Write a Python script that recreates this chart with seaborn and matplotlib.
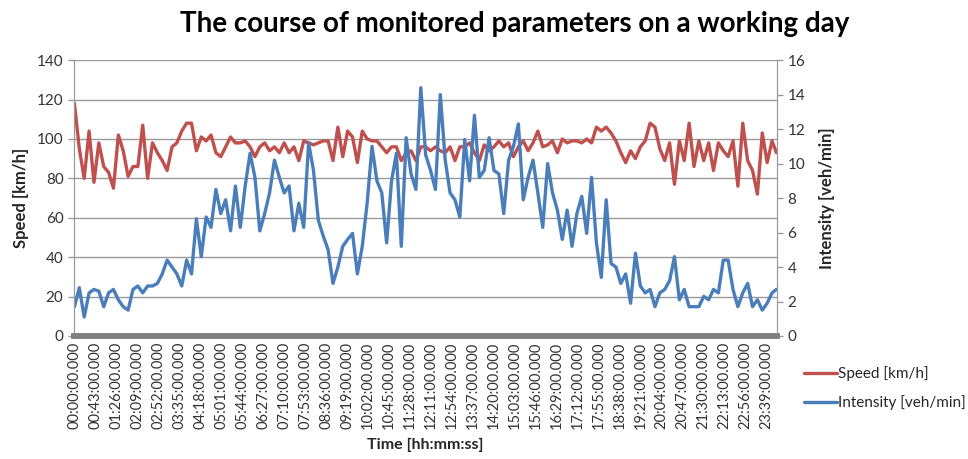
import matplotlib
matplotlib.use("Agg")
import matplotlib.pyplot as plt
import seaborn as sns

# sample minutes of the day (every 10 min, plus the last minute)
minutes = list(range(0, 1440, 10)) + [1439]

# Speed [km/h]
speed = [118, 95, 80, 104, 78, 98, 86, 83, 75, 102, 94, 81, 86, 86, 107, 80, 98, 93, 89, 84, 96, 98, 104, 108,
         108, 94, 101, 99, 102, 93, 91, 96, 101, 98, 98, 99, 96, 91, 96, 98, 94, 96, 93, 98, 93, 96, 89, 99,
         98, 97, 98, 99, 99, 89, 106, 91, 104, 101, 88, 104, 100, 99, 99, 96, 93, 96, 96, 89, 93, 94, 89, 96,
         96, 94, 96, 94, 93, 96, 89, 96, 96, 98, 93, 89, 97, 94, 96, 99, 96, 98, 91, 96, 99, 94, 98, 104,
         96, 97, 99, 93, 100, 98, 99, 99, 98, 100, 98, 106, 104, 106, 103, 99, 93, 88, 94, 90, 96, 99, 108, 106,
         95, 89, 98, 77, 99, 89, 108, 86, 99, 89, 98, 84, 98, 94, 91, 99, 76, 108, 89, 84, 72, 103, 88, 99, 93]

# Intensity [veh/min]
intensity = [1.7, 2.8, 1.1, 2.5, 2.7, 2.6, 1.7, 2.5, 2.7, 2.1, 1.7, 1.5, 2.7, 2.9, 2.5, 2.9, 2.9, 3.05, 3.6, 4.4, 4.0, 3.6, 2.9, 4.4,
             3.6, 6.8, 4.6, 6.9, 6.3, 8.5, 7.1, 7.9, 6.1, 8.7, 6.3, 8.7, 10.6, 9.2, 6.1, 7.1, 8.3, 10.2, 9.2, 8.3, 8.7, 6.1, 7.7, 6.3,
             11.2, 9.6, 6.7, 5.8, 5.0, 3.05, 4.0, 5.2, 5.6, 5.95, 3.6, 5.2, 7.7, 11.0, 9.0, 8.3, 5.4, 9.0, 10.6, 5.2, 11.5, 9.4, 8.5, 14.4,
             10.5, 9.6, 8.5, 14.0, 10.2, 8.3, 7.9, 6.9, 11.4, 9.0, 12.8, 9.2, 9.6, 11.5, 9.6, 9.4, 7.1, 10.2, 11.0, 12.3, 7.9, 9.2, 10.2, 8.3,
             6.3, 10.0, 8.3, 7.3, 5.6, 7.3, 5.2, 7.1, 8.1, 5.95, 9.2, 5.4, 3.4, 7.9, 4.2, 4.0, 3.05, 3.6, 1.9, 4.8, 2.9, 2.5, 2.7, 1.7,
             2.5, 2.7, 3.2, 4.6, 2.1, 2.7, 1.7, 1.7, 1.7, 2.3, 2.1, 2.7, 2.5, 4.4, 4.4, 2.7, 1.7, 2.5, 3.05, 1.7, 2.1, 1.5, 1.9, 2.5, 2.7]

# x tick labels every 43 minutes
tick_minutes = list(range(0, 1440, 43))
tick_labels = [f"{t // 60:02d}:{t % 60:02d}:00.000" for t in tick_minutes]

speed_color = "#C0504D"
intensity_color = "#4A7EBB"
grid_color = "#9a9a9a"

sns.set_style("white")
plt.rcParams["font.family"] = ["Lato", "DejaVu Sans"]

fig = plt.figure(figsize=(9.68, 4.59), dpi=100)
ax = fig.add_axes([0.0764, 0.268, 0.7262, 0.601])
ax2 = ax.twinx()

sns.lineplot(x=minutes, y=speed, ax=ax, color=speed_color, linewidth=2.4, label="Speed [km/h]", legend=False)
sns.lineplot(x=minutes, y=intensity, ax=ax2, color=intensity_color, linewidth=2.4,
             label="Intensity [veh/min]", legend=False)

ax.set_xlim(-1, 1440)
ax.set_ylim(0, 140)
ax.set_yticks(range(0, 141, 20))
ax2.set_ylim(0, 16)
ax2.set_yticks(range(0, 17, 2))

ax.set_xticks(tick_minutes)
ax.set_xticklabels(tick_labels, rotation=90, fontsize=10.5, color="#333333")
ax.tick_params(axis="x", length=0, pad=4)
ax.tick_params(axis="y", labelsize=11, colors="#333333", length=4, width=1, direction="out")
ax.tick_params(axis="y", color=grid_color)
ax2.tick_params(axis="y", labelsize=11, labelcolor="#333333", length=4, width=1, direction="out", color=grid_color)

ax.grid(axis="y", color=grid_color, linewidth=1)
ax.grid(axis="x", visible=False)

for a in (ax, ax2):
    a.spines["top"].set_visible(False)
    a.spines["left"].set_color(grid_color)
    a.spines["right"].set_color(grid_color)
    a.spines["bottom"].set_color("#808080")
    a.spines["bottom"].set_linewidth(4)

ax.set_xlabel("Time [hh:mm:ss]", fontsize=11.5, fontweight="bold", labelpad=6)
ax.set_ylabel("Speed [km/h]", fontsize=12, fontweight="bold", labelpad=6)
ax2.set_ylabel("Intensity [veh/min]", fontsize=12, fontweight="bold", labelpad=10)

fig.suptitle("The course of monitored parameters on a working day", x=0.532, y=0.975,
             fontsize=20, fontweight="bold", color="black")

handles = ax.get_lines()[:1] + ax2.get_lines()[:1]
fig.legend(handles, ["Speed [km/h]", "Intensity [veh/min]"], loc="upper left",
           bbox_to_anchor=(0.816, 0.232), frameon=False, fontsize=11,
           handlelength=2.2, handletextpad=0.05, labelspacing=0.9)

fig.savefig("out.png", dpi=100)
